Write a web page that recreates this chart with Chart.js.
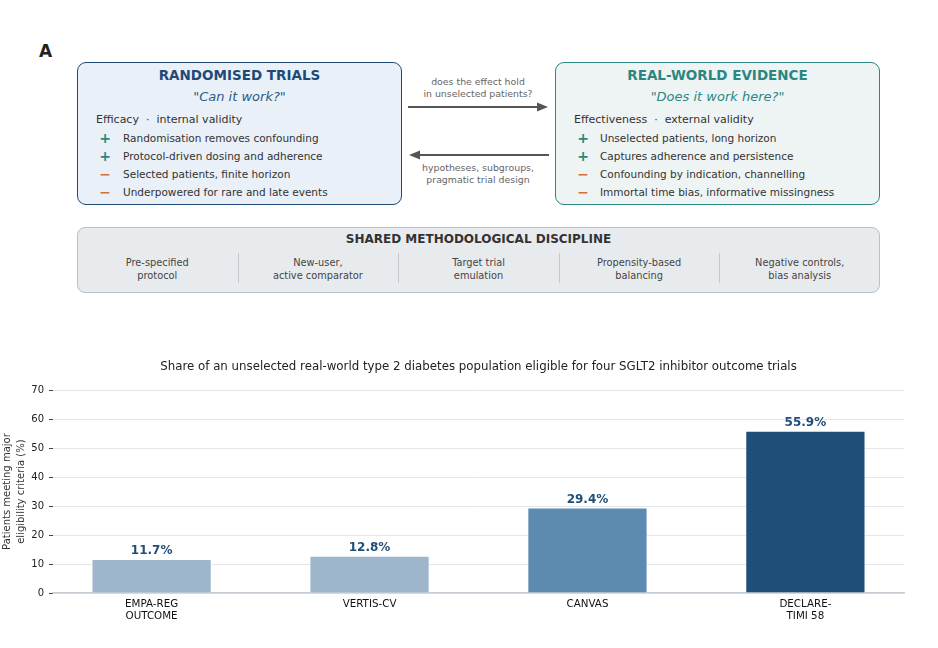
<!DOCTYPE html>
<html>
<head>
<meta charset="utf-8">
<script src="https://cdn.jsdelivr.net/npm/chart.js@4.4.1/dist/chart.umd.min.js"></script>
<style>
	body { margin: 0; background: #fff; font-family: 'DejaVu Sans', sans-serif; }
	#page { position: relative; width: 938px; height: 648px; overflow: hidden; }
	.t { position: absolute; white-space: pre; line-height: 1; transform: translateY(-50%); color: #333; }
	.c { transform: translate(-50%, -50%); text-align: center; }
	.box { position: absolute; box-sizing: border-box; border-radius: 9px; }
	.rct { left: 77px; top: 62px; width: 325px; height: 143px; background: #e9f0f7; border: 1.8px solid #1f4a78; }
	.rwe { left: 555px; top: 62px; width: 325px; height: 143px; background: #eef4f4; border: 1.8px solid #2a8782; }
	.shared { left: 77px; top: 227px; width: 803px; height: 66px; background: #e8ebee; border: 1.5px solid #b9c0c7; border-radius: 8px; }
	.head { font-weight: bold; font-size: 13.5px; }
	.sub { font-style: italic; font-size: 13px; }
	.lead { font-size: 11px; color: #333; }
	.item { font-size: 10.5px; color: #333; }
	.plus { font-size: 14px; color: #2a8782; font-weight: bold; }
	.minus { font-size: 14px; color: #d2703f; font-weight: bold; }
	.note { font-size: 9.4px; color: #666; }
	.col { font-size: 9.8px; color: #444; line-height: 13px; }
	.div { position: absolute; top: 253px; width: 1px; height: 30px; background: #c5c9ce; }
	#chartWrap { position: absolute; left: 0; top: 350px; width: 938px; height: 298px; }
</style>
</head>
<body>
<div id="page">
	<div class="t" style="left:39px; top:51px; font-size:17px; font-weight:bold; color:#222;">A</div>

	<!-- randomised trials -->
	<div class="box rct"></div>
	<div class="t c head" style="left:239.5px; top:76px; color:#1f4a78;">RANDOMISED TRIALS</div>
	<div class="t c sub" style="left:239.5px; top:96px; color:#2c5a88;">"Can it work?"</div>
	<div class="t lead" style="left:96px; top:119px;">Efficacy  ·  internal validity</div>
	<div class="t c plus" style="left:105px; top:138px;">+</div>
	<div class="t item" style="left:123px; top:138px;">Randomisation removes confounding</div>
	<div class="t c plus" style="left:105px; top:156px;">+</div>
	<div class="t item" style="left:123px; top:156px;">Protocol-driven dosing and adherence</div>
	<div class="t c minus" style="left:105px; top:174px;">−</div>
	<div class="t item" style="left:123px; top:174px;">Selected patients, finite horizon</div>
	<div class="t c minus" style="left:105px; top:192px;">−</div>
	<div class="t item" style="left:123px; top:192px;">Underpowered for rare and late events</div>

	<!-- real-world evidence -->
	<div class="box rwe"></div>
	<div class="t c head" style="left:717.5px; top:76px; color:#2a8782;">REAL-WORLD EVIDENCE</div>
	<div class="t c sub" style="left:717.5px; top:96px; color:#2a8782;">"Does it work here?"</div>
	<div class="t lead" style="left:574px; top:119px;">Effectiveness  ·  external validity</div>
	<div class="t c plus" style="left:583px; top:138px;">+</div>
	<div class="t item" style="left:600px; top:138px;">Unselected patients, long horizon</div>
	<div class="t c plus" style="left:583px; top:156px;">+</div>
	<div class="t item" style="left:600px; top:156px;">Captures adherence and persistence</div>
	<div class="t c minus" style="left:583px; top:174px;">−</div>
	<div class="t item" style="left:600px; top:174px;">Confounding by indication, channelling</div>
	<div class="t c minus" style="left:583px; top:192px;">−</div>
	<div class="t item" style="left:600px; top:192px;">Immortal time bias, informative missingness</div>

	<!-- arrows between the boxes -->
	<svg width="938" height="648" style="position:absolute; left:0; top:0;">
		<line x1="408" y1="107" x2="538" y2="107" stroke="#555" stroke-width="1.8"/>
		<polygon points="548,107 537,102.5 537,111.5" fill="#555"/>
		<line x1="549" y1="155" x2="419" y2="155" stroke="#555" stroke-width="1.8"/>
		<polygon points="409,155 420,150.5 420,159.5" fill="#555"/>
	</svg>
	<div class="t c note" style="left:478px; top:82px;">does the effect hold</div>
	<div class="t c note" style="left:478px; top:94px;">in unselected patients?</div>
	<div class="t c note" style="left:478px; top:168px;">hypotheses, subgroups,</div>
	<div class="t c note" style="left:478px; top:180px;">pragmatic trial design</div>

	<!-- shared discipline -->
	<div class="box shared"></div>
	<div class="t c" style="left:478.5px; top:239px; font-size:12px; font-weight:bold; color:#333;">SHARED METHODOLOGICAL DISCIPLINE</div>
	<div class="t c col" style="left:157.3px; top:268.5px;">Pre-specified
protocol</div>
	<div class="t c col" style="left:317.9px; top:268.5px;">New-user,
active comparator</div>
	<div class="t c col" style="left:478.5px; top:268.5px;">Target trial
emulation</div>
	<div class="t c col" style="left:639.1px; top:268.5px;">Propensity-based
balancing</div>
	<div class="t c col" style="left:799.7px; top:268.5px;">Negative controls,
bias analysis</div>
	<div class="div" style="left:237.6px;"></div>
	<div class="div" style="left:398.2px;"></div>
	<div class="div" style="left:558.8px;"></div>
	<div class="div" style="left:719.4px;"></div>

	<div id="chartWrap"><canvas id="eligibilityChart"></canvas></div>
</div>

<script>
var trialNames = [['EMPA-REG', 'OUTCOME'], ['VERTIS-CV'], ['CANVAS'], ['DECLARE-', 'TIMI 58']];
var eligiblePct = [11.7, 12.8, 29.4, 55.9];
var barColors = ['#9db6cc', '#9db6cc', '#5d8bb0', '#1f4e79'];
var yTicks = [0, 10, 20, 30, 40, 50, 60, 70];

Chart.defaults.font.family = "'DejaVu Sans', sans-serif";

// percentage above each bar
var valueLabels = {
	id: 'valueLabels',
	afterDatasetsDraw: function (chart) {
		var ctx = chart.ctx;
		var meta = chart.getDatasetMeta(0);
		ctx.save();
		ctx.font = "bold 12px 'DejaVu Sans'";
		ctx.fillStyle = '#1f4e79';
		ctx.textAlign = 'center';
		ctx.textBaseline = 'alphabetic';
		meta.data.forEach(function (bar, i) {
			ctx.fillText(eligiblePct[i].toFixed(1) + '%', bar.x, bar.y - 5);
		});
		ctx.restore();
	}
};

var ctx = document.getElementById('eligibilityChart').getContext('2d');
new Chart(ctx, {
	type: 'bar',
	data: {
		datasets: [{
			data: eligiblePct.map(function (v, i) { return { x: i, y: v }; }),
			backgroundColor: barColors,
			borderColor: '#ffffff',
			borderWidth: 0.8,
			categoryPercentage: 1,
			barPercentage: 0.55
		}]
	},
	plugins: [valueLabels],
	options: {
		responsive: true,
		maintainAspectRatio: false,
		animation: false,
		layout: { padding: { top: 3, right: 34, left: 0, bottom: 0 } },
		plugins: {
			legend: { display: false },
			tooltip: { enabled: false },
			title: {
				display: true,
				fullSize: false,
				text: 'Share of an unselected real-world type 2 diabetes population eligible for four SGLT2 inhibitor outcome trials',
				color: '#222',
				font: { size: 11.8, weight: 'normal' },
				padding: { top: 7, bottom: 16 }
			}
		},
		scales: {
			x: {
				type: 'linear',
				offset: false,
				min: -0.4525,
				max: 3.4525,
				afterBuildTicks: function (scale) {
					scale.ticks = trialNames.map(function (n, i) { return { value: i }; });
				},
				afterFit: function (scale) { scale.height = 55; },
				ticks: {
					autoSkip: false,
					maxRotation: 0,
					color: '#111',
					font: { size: 10.3, lineHeight: 1.17 },
					padding: 5,
					callback: function (value) { return trialNames[value]; }
				},
				grid: { display: false, drawTicks: false },
				border: { color: '#c5ccd3', width: 1.5 }
			},
			y: {
				min: 0,
				max: 70,
				afterBuildTicks: function (scale) {
					scale.ticks = yTicks.map(function (v) { return { value: v }; });
				},
				afterFit: function (scale) { scale.width = 53; },
				ticks: {
					color: '#222',
					font: { size: 10 },
					padding: 5
				},
				grid: {
					color: '#e3e7eb',
					lineWidth: 1,
					tickLength: 4,
					tickColor: '#444'
				},
				border: { display: false },
				title: {
					display: true,
					text: ['Patients meeting major', 'eligibility criteria (%)'],
					color: '#333',
					font: { size: 10, lineHeight: 1.4 },
					padding: { top: 0, bottom: 0 }
				}
			}
		}
	}
});
</script>
</body>
</html>
